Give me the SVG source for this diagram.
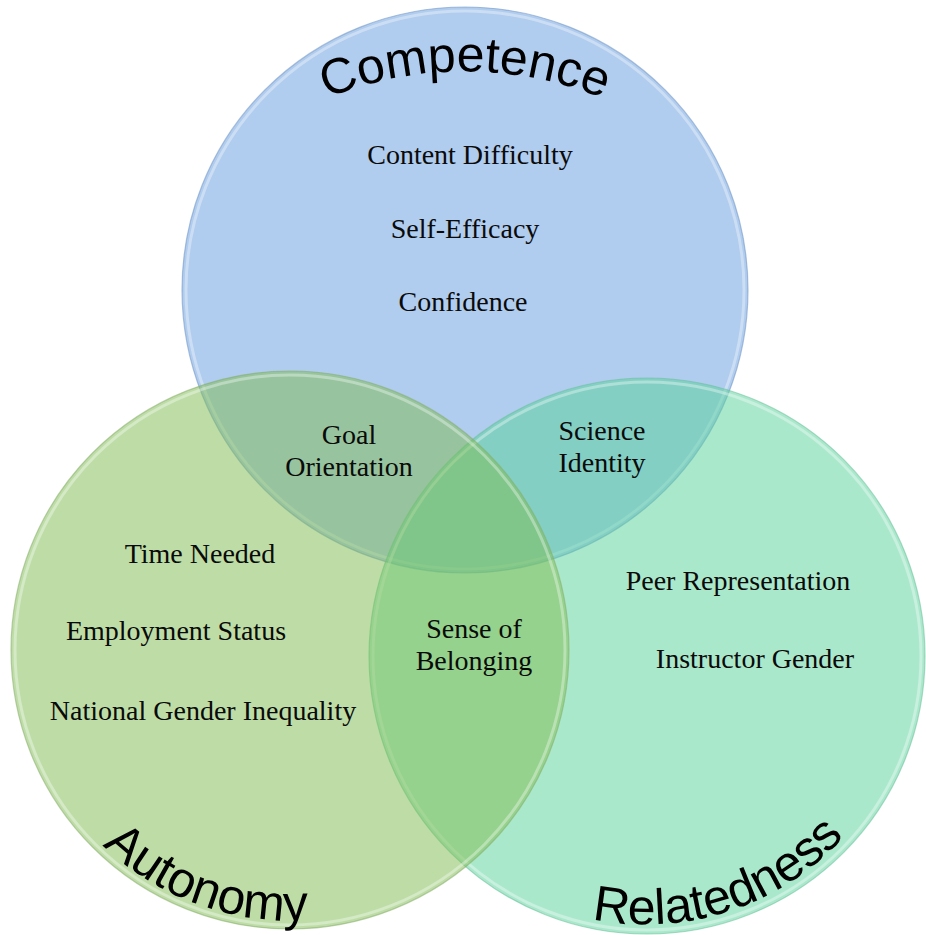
<svg xmlns="http://www.w3.org/2000/svg" width="926" height="935" viewBox="0 0 926 935">
  <defs>
    <style>
      .ring { fill-opacity: 0.5; }
      .rim { fill: none; stroke: #ffffff; stroke-opacity: 0.35; stroke-width: 3; }
      .edge { fill: none; stroke-opacity: 0.55; stroke-width: 1.2; }
      .item { font-family: "Liberation Serif", "Times New Roman", serif; font-size: 28px; fill: #0a0a0a; text-anchor: middle; }
      .title { font-family: "Liberation Sans", Arial, sans-serif; font-size: 50px; fill: #000000; text-anchor: middle; }
    </style>
    <!-- arcs carrying the curved set titles -->
    <path id="arc-competence" d="M 275 124 A 370 370 0 0 1 655 124"/>
    <path id="arc-autonomy" d="M 56 786 A 270 270 0 0 0 382 904"/>
    <path id="arc-relatedness" d="M 505 884 A 267 267 0 0 0 894 757"/>
  </defs>

  <rect width="926" height="935" fill="#ffffff"/>

  <!-- Competence set -->
  <g id="competence">
    <circle class="ring" cx="465" cy="290" r="283" fill="#6199dd"/>
    <circle class="rim" cx="465" cy="290" r="279"/>
    <circle class="edge" cx="465" cy="290" r="283" stroke="#6f93c2"/>
  </g>

  <!-- Relatedness set -->
  <g id="relatedness">
    <circle class="ring" cx="647" cy="656" r="278" fill="#55d199"/>
    <circle class="rim" cx="647" cy="656" r="274"/>
    <circle class="edge" cx="647" cy="656" r="278" stroke="#6cbf9a"/>
  </g>

  <!-- Autonomy set -->
  <g id="autonomy">
    <circle class="ring" cx="290" cy="650" r="279" fill="#7dbb4d"/>
    <circle class="rim" cx="290" cy="650" r="275"/>
    <circle class="edge" cx="290" cy="650" r="279" stroke="#86ad6c"/>
  </g>

  <!-- set titles -->
  <g id="titles">
    <text class="title"><textPath href="#arc-competence" startOffset="50%">Competence</textPath></text>
    <text class="title"><textPath href="#arc-autonomy" startOffset="50%">Autonomy</textPath></text>
    <text class="title"><textPath href="#arc-relatedness" startOffset="50%">Relatedness</textPath></text>
  </g>

  <!-- factors in each region -->
  <g id="competence-items">
    <text class="item" x="470" y="164">Content Difficulty</text>
    <text class="item" x="465" y="238">Self-Efficacy</text>
    <text class="item" x="463" y="311">Confidence</text>
  </g>
  <g id="goal-orientation">
    <text class="item" x="349" y="444">Goal</text>
    <text class="item" x="349" y="476">Orientation</text>
  </g>
  <g id="science-identity">
    <text class="item" x="602" y="440">Science</text>
    <text class="item" x="602" y="472">Identity</text>
  </g>
  <g id="autonomy-items">
    <text class="item" x="200" y="563">Time Needed</text>
    <text class="item" x="176" y="640">Employment Status</text>
    <text class="item" x="203" y="720">National Gender Inequality</text>
  </g>
  <g id="sense-of-belonging">
    <text class="item" x="474" y="638">Sense of</text>
    <text class="item" x="474" y="670">Belonging</text>
  </g>
  <g id="relatedness-items">
    <text class="item" x="738" y="590">Peer Representation</text>
    <text class="item" x="755" y="668">Instructor Gender</text>
  </g>
</svg>
